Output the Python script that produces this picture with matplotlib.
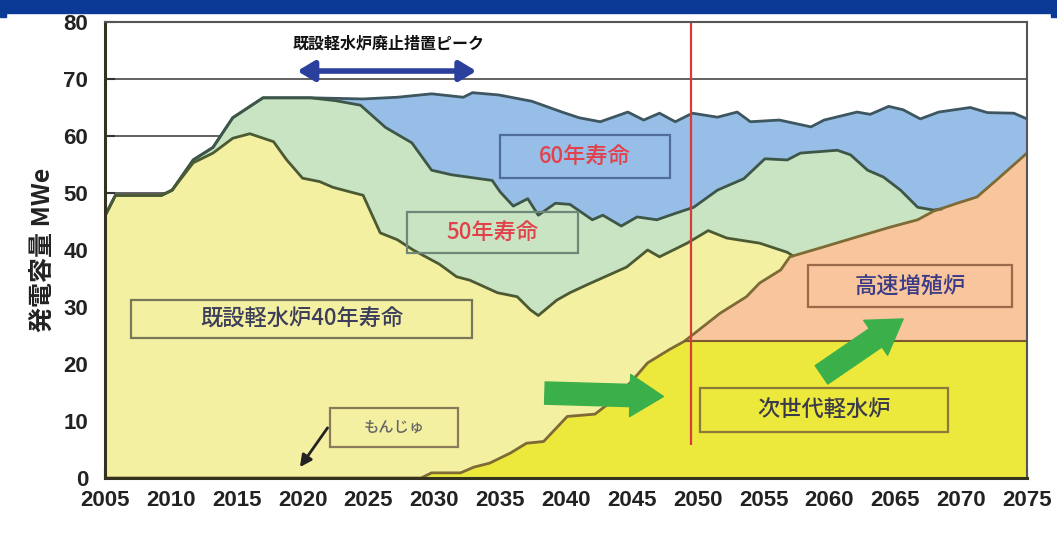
import numpy as np
import matplotlib
matplotlib.use("Agg")
import matplotlib.pyplot as plt
from matplotlib.patches import Rectangle

# --- data (GWe) ---
# 60-year life total (top of blue area)
yrs60 = [2005, 2005.8, 2009.3, 2010.1, 2011.7, 2013.2, 2014.7, 2017.0, 2020.6, 2024.6, 2027.2,
         2029.8, 2032.2, 2032.9, 2034.9, 2037.4, 2039.7, 2041.0, 2042.6, 2044.7, 2045.9, 2047.1,
         2048.3, 2049.6, 2051.5, 2053.0, 2054.0, 2056.2, 2058.6, 2059.6, 2062.1, 2063.1, 2064.5,
         2065.6, 2066.9, 2068.3, 2070.7, 2072.0, 2074.0, 2075.0]
vals60 = [46.0, 49.6, 49.6, 50.5, 55.8, 58.0, 63.2, 66.7, 66.7, 66.5, 66.8,
          67.4, 66.8, 67.6, 67.2, 66.1, 64.2, 63.2, 62.5, 64.2, 62.8, 64.0,
          62.5, 64.0, 63.3, 64.2, 62.5, 62.8, 61.6, 62.8, 64.2, 63.8, 65.2,
          64.6, 63.0, 64.2, 65.0, 64.1, 64.0, 63.0]

# 50-year life total (top of green area)
yrs50 = [2005, 2005.8, 2009.3, 2010.1, 2011.7, 2013.2, 2014.7, 2017.0, 2020.6, 2022.5, 2024.4,
         2026.3, 2028.3, 2029.8, 2031.3, 2034.4, 2035.0, 2036.0, 2037.1, 2037.9, 2039.2, 2040.3,
         2042.0, 2042.8, 2044.2, 2045.4, 2046.9, 2048.4, 2049.7, 2051.5, 2053.5, 2055.1, 2056.8,
         2057.8, 2060.6, 2061.6, 2062.9, 2064.1, 2065.4, 2066.7, 2067.9, 2068.5]
vals50 = [46.0, 49.6, 49.6, 50.5, 55.8, 58.0, 63.2, 66.7, 66.7, 66.2, 65.4,
          61.5, 58.8, 54.0, 53.2, 52.2, 50.2, 47.7, 49.0, 46.1, 48.2, 48.0,
          45.3, 46.1, 44.2, 45.8, 45.3, 46.5, 47.5, 50.5, 52.5, 56.0, 55.8,
          57.0, 57.5, 56.7, 54.0, 52.8, 50.5, 47.5, 47.0, 47.2]

# existing LWR, 40-year life total (top of pale yellow area)
yrs40 = [2005, 2005.8, 2009.3, 2010.1, 2011.7, 2013.2, 2014.7, 2016.0, 2017.8, 2018.8, 2020.0,
         2021.3, 2022.3, 2023.6, 2024.6, 2025.9, 2027.2, 2028.4, 2030.4, 2031.7, 2032.7, 2034.8,
         2036.3, 2037.3, 2037.9, 2039.3, 2040.3, 2041.6, 2044.6, 2046.2, 2047.1, 2049.2, 2050.8,
         2052.2, 2054.7, 2056.8, 2057.2]
vals40 = [46.0, 49.6, 49.6, 50.5, 55.3, 57.0, 59.6, 60.4, 59.0, 55.8, 52.6,
          52.0, 51.0, 50.2, 49.6, 43.0, 41.8, 40.0, 37.5, 35.3, 34.7, 32.5,
          31.8, 29.5, 28.5, 31.2, 32.5, 33.9, 37.0, 40.0, 38.8, 41.2, 43.4,
          42.1, 41.2, 39.6, 39.0]

# replacement reactors total (next-gen LWR + FBR)
yrs_rep = [2005, 2029.0, 2029.8, 2032.0, 2033.0, 2034.2, 2035.8, 2037.0, 2038.3, 2040.1, 2042.2,
           2043.6, 2045.0, 2046.2, 2047.9, 2049.0, 2051.7, 2053.7, 2054.7, 2056.3, 2057.0, 2059.5,
           2062.1, 2064.6, 2066.7, 2067.9, 2069.7, 2071.2, 2072.7, 2075.0]
vals_rep = [0.0, 0.0, 0.9, 0.9, 1.9, 2.6, 4.4, 6.1, 6.4, 10.8, 11.2,
            13.7, 17.0, 20.2, 22.6, 24.0, 28.9, 31.8, 34.2, 36.5, 38.8, 40.5,
            42.3, 44.0, 45.3, 46.8, 48.2, 49.3, 52.3, 57.0]

NG_CAP = 24.0          # next-gen LWR plateau after 2049
NG_CAP_YEAR = 2049.0
RED_LINE_YEAR = 2049.5

yrs_ng = [y for y in yrs_rep if y <= NG_CAP_YEAR] + [2075.0]
vals_ng = [v for y, v in zip(yrs_rep, vals_rep) if y <= NG_CAP_YEAR] + [NG_CAP]

xticks = list(range(2005, 2080, 5))
yticks = list(range(0, 90, 10))

# --- colours ---
C_BLUE = '#97bee6'
C_GREEN = '#c9e4c3'
C_PALE = '#f4f0a2'
C_ORANGE = '#f8c59c'
C_NG = '#ece83c'
C_LINE = '#3e5648'
C_REP = '#7d6a34'

CJK = ['Noto Sans CJK JP', 'DejaVu Sans']
plt.rcParams['font.family'] = ['Liberation Sans', 'Noto Sans CJK JP', 'DejaVu Sans']

fig = plt.figure(figsize=(10.57, 5.34), dpi=100)
ax = fig.add_axes([0.0993, 0.1049, 0.8723, 0.8539])

# header band of the slide
fig.patches.append(Rectangle((0, 1 - 13 / 534), 1, 13 / 534, transform=fig.transFigure,
                             color='#0b3a96', zorder=0))
fig.patches.append(Rectangle((0, 1 - 17 / 534), 6 / 1057, 4 / 534, transform=fig.transFigure,
                             color='#0b3a96', zorder=0))
fig.patches.append(Rectangle((1 - 6 / 1057, 1 - 17 / 534), 6 / 1057, 4 / 534,
                             transform=fig.transFigure, color='#0b3a96', zorder=0))

# grid behind the areas
for yv in yticks[1:-1]:
    ax.axhline(yv, color='#555555', lw=1.3, zorder=1)

# areas, painted from the top layer down
ax.fill_between(yrs60, 0, vals60, color=C_BLUE, lw=0, zorder=2)
ax.fill_between(yrs50, 0, vals50, color=C_GREEN, lw=0, zorder=3)
ax.fill_between(yrs40, 0, vals40, color=C_PALE, lw=0, zorder=4)
ax.fill_between(yrs_rep, 0, vals_rep, color=C_ORANGE, lw=0, zorder=5)
ax.fill_between(yrs_ng, 0, vals_ng, color=C_NG, lw=0, zorder=6)

ax.plot(yrs60, vals60, color='#3d5660', lw=2, zorder=7)
ax.plot(yrs50, vals50, color=C_LINE, lw=2, zorder=7)
ax.plot(yrs40, vals40, color='#4b5a33', lw=2, zorder=7)
ax.plot(yrs_rep, vals_rep, color=C_REP, lw=2, zorder=7)
ax.plot(yrs_ng[-2:], vals_ng[-2:], color='#7a5a2c', lw=1.5, zorder=7)

ax.vlines(RED_LINE_YEAR, 5.8, 80, color='#d93a3a', lw=1.6, zorder=8)

ax.set_xlim(2005, 2075)
ax.set_ylim(0, 80)
ax.set_xticks(xticks)
ax.set_yticks(yticks)
ax.tick_params(direction='in', length=7, width=1.5, colors='#333333', labelsize=16,
               labelcolor='#222222')
ax.tick_params(axis='x', pad=9)
ax.tick_params(axis='y', pad=12)
for lab in ax.get_xticklabels() + ax.get_yticklabels():
    lab.set_fontweight('bold')
for side in ['left', 'bottom']:
    ax.spines[side].set_color('#33331f')
    ax.spines[side].set_linewidth(2.2)
for side in ['top', 'right']:
    ax.spines[side].set_color('#555555')
    ax.spines[side].set_linewidth(1.5)
for s in ax.spines.values():
    s.set_zorder(9)

ax.set_ylabel('発電容量 MWe', family=CJK, fontsize=18, fontweight='bold', color='#222222',
              labelpad=6)

# labelled boxes: (x0, y0, x1, y1, text, text colour, edge colour, size)
boxes = [
    (2007.0, 24.6, 2032.9, 31.2, '既設軽水炉40年寿命', '#3b3d5a', '#77775a', 16),
    (2035.0, 52.6, 2047.9, 60.2, '60年寿命', '#e2404a', '#4f6c9a', 16),
    (2027.9, 39.5, 2040.9, 46.7, '50年寿命', '#e2404a', '#6d8878', 16),
    (2022.1, 5.4, 2031.8, 12.3, 'もんじゅ', '#666666', '#8a7a5a', 11),
    (2058.4, 30.0, 2073.9, 37.4, '高速増殖炉', '#3c3c86', '#9a6a4a', 16),
    (2050.2, 8.1, 2069.0, 15.8, '次世代軽水炉', '#3a3b4a', '#8a7a3a', 16),
]
for x0, y0, x1, y1, txt, tc, ec, fs in boxes:
    ax.add_patch(Rectangle((x0, y0), x1 - x0, y1 - y0, fill=False, ec=ec, lw=1.6, zorder=10))
    ax.text((x0 + x1) / 2, (y0 + y1) / 2, txt, ha='center', va='center', fontsize=fs,
            color=tc, family=CJK, fontweight='medium', zorder=11)

# decommissioning peak note and arrow
ax.text(2026.5, 76.2, '既設軽水炉廃止措置ピーク', ha='center', va='center', fontsize=11.5,
        fontweight='bold', color='#111111', family=CJK, zorder=11)
ax.annotate('', xy=(2033.2, 71.4), xytext=(2019.6, 71.4),
            arrowprops=dict(arrowstyle='<|-|>,head_length=0.5,head_width=0.3',
                            color='#2b3f9c', lw=4, mutation_scale=20, shrinkA=0, shrinkB=0),
            zorder=11)

# Monju pointer
ax.annotate('', xy=(2019.8, 1.9), xytext=(2021.9, 8.8),
            arrowprops=dict(arrowstyle='-|>,head_length=0.5,head_width=0.25',
                            color='#222222', lw=2, mutation_scale=14, shrinkA=0, shrinkB=0),
            zorder=11)

# green block arrows
green_arrow = dict(arrowstyle='simple,head_width=1.9,head_length=1.5,tail_width=1.0',
                   color='#3bb04a', mutation_scale=16, shrinkA=0, shrinkB=0)
ax.annotate('', xy=(2047.4, 14.3), xytext=(2038.4, 14.9), arrowprops=green_arrow, zorder=11)
ax.annotate('', xy=(2065.6, 27.9), xytext=(2059.4, 18.1), arrowprops=green_arrow, zorder=11)

fig.savefig('out.png', dpi=100)
